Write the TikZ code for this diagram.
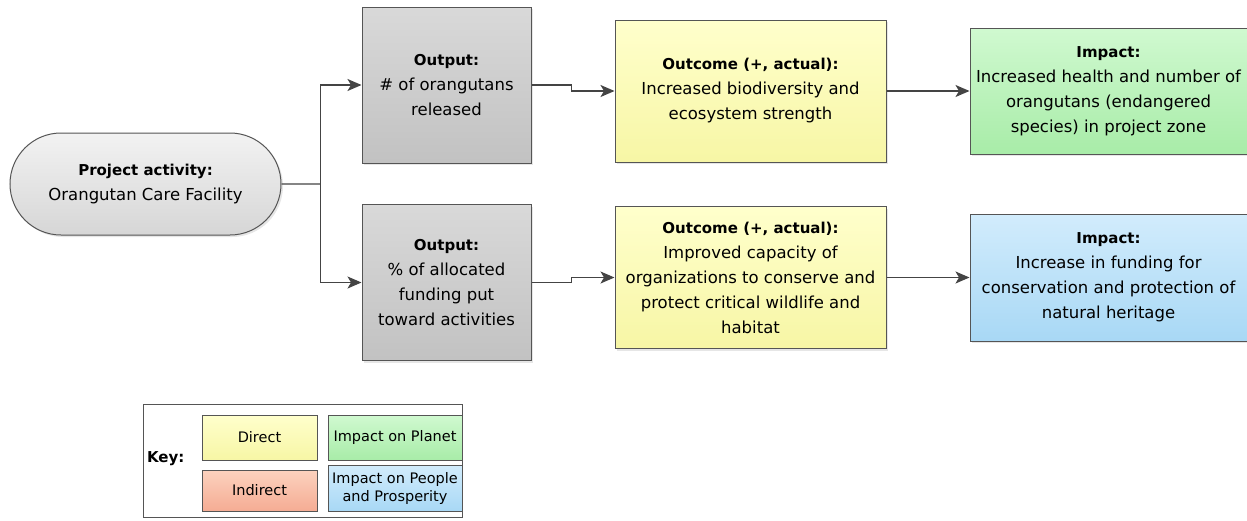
\documentclass[tikz,border=0pt]{standalone}
\usepackage{fontspec}
\setmainfont{DejaVu Sans}
\usetikzlibrary{shapes.misc,positioning,arrows.meta,shadows}

\definecolor{boxline}{HTML}{555555}
\definecolor{arrowgrey}{HTML}{444444}
\newcommand{\boxhead}[1]{{\bfseries\fontsize{15}{25}\selectfont #1}}

\tikzset{
  box/.style={draw=boxline,line width=1pt,align=center,inner sep=2pt,
    font=\fontsize{16.5}{25}\selectfont,
    drop shadow={opacity=0.2,shadow xshift=2pt,shadow yshift=-2pt}},
  activitybox/.style={box,rounded rectangle,top color=white!95!black,bottom color=white!84!black,
    minimum width=275pt,minimum height=102pt},
  outputbox/.style={box,top color=white!85!black,bottom color=white!76!black,
    minimum width=169pt,minimum height=156pt},
  outcomebox/.style={box,top color={rgb,255:red,255;green,255;blue,204},bottom color={rgb,255:red,247;green,246;blue,165},
    minimum width=271pt,minimum height=142pt},
  planetbox/.style={box,top color={rgb,255:red,208;green,249;blue,208},bottom color={rgb,255:red,168;green,236;blue,168},
    minimum width=277pt,minimum height=126pt},
  peoplebox/.style={box,top color={rgb,255:red,210;green,236;blue,252},bottom color={rgb,255:red,168;green,216;blue,245},
    minimum width=277pt,minimum height=127pt},
  keycell/.style={draw=boxline,line width=1pt,align=center,inner sep=1pt,
    font=\fontsize{14.5}{18}\selectfont,minimum width=115pt,minimum height=45pt},
  link/.style={draw=arrowgrey,line width=1.3pt}
}

\begin{document}
\begin{tikzpicture}[x=1pt,y=1pt,node distance=83pt,
    >={Stealth[length=14pt,width=12pt,inset=3.5pt]}]
  \useasboundingbox (-145.5,184) rectangle (1101.5,-336);

  % project activity and its outputs
  \node[activitybox] (act) {\boxhead{Project activity:}\\Orangutan Care Facility};
  \node[outputbox,right=80pt of act,yshift=99pt] (out1) {\boxhead{Output:}\\\# of orangutans\\released};
  \node[outputbox,right=80pt of act,yshift=-98.5pt] (out2) {\boxhead{Output:}\\\% of allocated\\funding put\\toward activities};

  % outcomes
  \node[outcomebox,right=of out1,yshift=-6pt] (oc1) {\boxhead{Outcome (+, actual):}\\Increased biodiversity and\\ecosystem strength};
  \node[outcomebox,right=of out2,yshift=5pt] (oc2) {\boxhead{Outcome (+, actual):}\\Improved capacity of\\organizations to conserve and\\protect critical wildlife and\\habitat};

  % impacts
  \node[planetbox,right=of oc1] (im1) {\boxhead{Impact:}\\Increased health and number of\\orangutans (endangered\\species) in project zone};
  \node[peoplebox,right=of oc2] (im2) {\boxhead{Impact:}\\Increase in funding for\\conservation and protection of\\natural heritage};

  % connectors
  \coordinate[right=39pt of act] (split);
  \draw[link] (act) -- (split);
  \draw[link,->] (split) |- (out1);
  \draw[link,->] (split) |- (out2);
  \draw[link,->] (out1.east) -- ++(40pt,0) |- (oc1);
  \draw[link,->] (out2.east) -- ++(40pt,0) |- (oc2);
  \draw[link,->] (oc1) -- (im1);
  \draw[link,->] (oc2) -- (im2);

  % key
  \node[draw=boxline,line width=1pt,fill=white,minimum width=318pt,minimum height=113pt] (legend) at (157.5,-276.5) {};
  \node[keycell,top color={rgb,255:red,255;green,255;blue,204},bottom color={rgb,255:red,247;green,246;blue,165}] (direct) at (114,-253.5) {Direct};
  \node[keycell,minimum height=41pt,top color={rgb,255:red,252;green,210;blue,190},bottom color={rgb,255:red,245;green,172;blue,148},below=9pt of direct] (indirect) {Indirect};
  \node[keycell,minimum width=134pt,top color={rgb,255:red,208;green,249;blue,208},bottom color={rgb,255:red,168;green,236;blue,168},right=10pt of direct] (planet) {Impact on Planet};
  \node[keycell,minimum width=134pt,minimum height=46pt,top color={rgb,255:red,210;green,236;blue,252},bottom color={rgb,255:red,168;green,216;blue,245},below=4pt of planet] (people) {Impact on People\\and Prosperity};
  \node[font=\bfseries\fontsize{15}{18}\selectfont,right=0pt of legend.west,yshift=2pt] (keylabel) {Key:};
\end{tikzpicture}
\end{document}
